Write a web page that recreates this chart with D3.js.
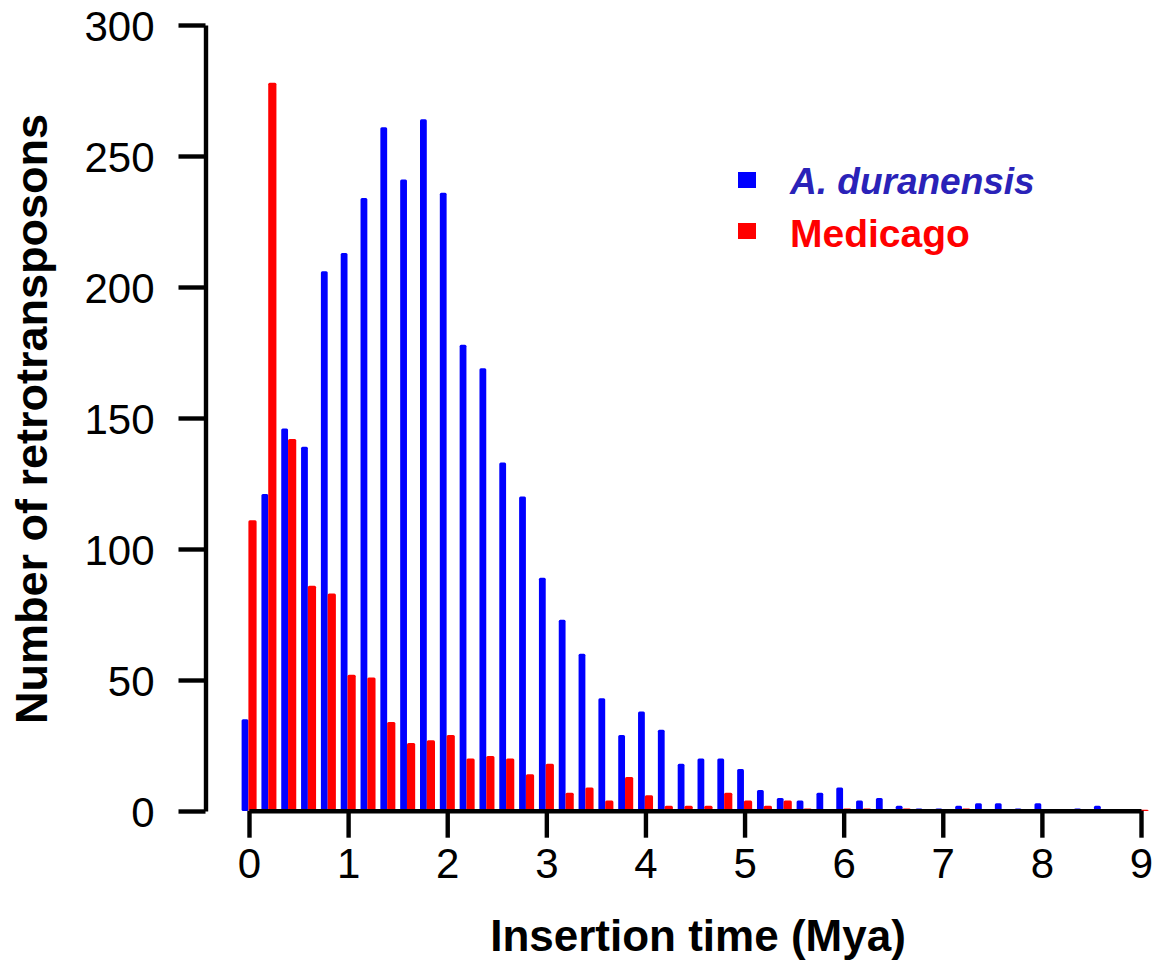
<!DOCTYPE html>
<html>
<head>
<meta charset="utf-8">
<script src="https://cdn.jsdelivr.net/npm/d3@7"></script>
<style>
  body { margin: 0; background: #fff; }
  text { font-family: "Liberation Sans", Arial, sans-serif; }
</style>
</head>
<body>
<svg id="chart"></svg>
<script>
// bin start (Mya), 0.2 wide
const bins = [0, 0.2, 0.4, 0.6, 0.8, 1.0, 1.2, 1.4, 1.6, 1.8, 2.0, 2.2, 2.4, 2.6, 2.8,
    3.0, 3.2, 3.4, 3.6, 3.8, 4.0, 4.2, 4.4, 4.6, 4.8, 5.0, 5.2, 5.4, 5.6, 5.8,
    6.0, 6.2, 6.4, 6.6, 6.8, 7.0, 7.2, 7.4, 7.6, 7.8, 8.0, 8.2, 8.4, 8.6, 8.8, 9.0];
const duranensis = [35, 121, 146, 139, 206, 213, 234, 261, 241, 264, 236, 178, 169, 133, 120,
    89, 73, 60, 43, 29, 38, 31, 18, 20, 20, 16, 8, 5, 4, 7,
    9, 4, 5, 2, 1, 1, 2, 3, 3, 1, 3, 0, 1, 2, 0, 0];
const medicago = [111, 278, 142, 86, 83, 52, 51, 34, 26, 27, 29, 20, 21, 20, 14,
    18, 7, 9, 4, 13, 6, 2, 2, 2, 7, 4, 2, 4, 1, 0,
    1, 1, 0, 1, 0, 0, 1, 0, 0, 0, 0, 0, 0, 0, 0, 0.5];
const xTicks = [0, 1, 2, 3, 4, 5, 6, 7, 8, 9];
const yTicks = [0, 50, 100, 150, 200, 250, 300];
const seriesNames = ["A. duranensis", "Medicago"];

function drawChart(){
    const width = 1162;
    const height = 961;

    const svg = d3.select("#chart")
        .attr("width", width)
        .attr("height", height);

    const x = d3.scaleLinear().domain([0, 9]).range([249, 1141]);
    const y = d3.scaleLinear().domain([0, 300]).range([811, 25]);

    const data = bins.map((b, i) => ({bin: b, blue: duranensis[i], red: medicago[i]}));

    // blue bars sit just left of the bin mark, red ones just right
    svg.append("g").selectAll("rect")
        .data(data.filter(d => d.blue > 0))
        .enter()
        .append("rect")
        .attr("x", d => x(d.bin) - 7.4)
        .attr("y", d => y(d.blue))
        .attr("width", 6.8)
        .attr("height", d => y(0) - y(d.blue))
        .attr("rx", 1.5)
        .attr("fill", "#0000ff");

    svg.append("g").selectAll("rect")
        .data(data.filter(d => d.red > 0))
        .enter()
        .append("rect")
        .attr("x", d => x(d.bin) - 0.6)
        .attr("y", d => y(d.red))
        .attr("width", 8.2)
        .attr("height", d => y(0) - y(d.red))
        .attr("rx", 1.5)
        .attr("fill", "#ff0000");

    const yAxis = svg.append("g")
        .attr("transform", "translate(205.5,0)")
        .call(d3.axisLeft(y).tickValues(yTicks).tickSize(27).tickSizeOuter(0).tickPadding(24));

    const xAxis = svg.append("g")
        .attr("transform", "translate(0,810.7)")
        .call(d3.axisBottom(x).tickValues(xTicks).tickSize(27).tickSizeOuter(0).tickPadding(10));

    [yAxis, xAxis].forEach(g => {
        g.select(".domain").attr("stroke", "#000").attr("stroke-width", 4.4);
        g.selectAll(".tick line").attr("stroke", "#000").attr("stroke-width", 4.4);
        g.selectAll(".tick text")
            .attr("fill", "#000")
            .style("font-family", "'Liberation Sans', Arial, sans-serif")
            .style("font-size", "42px");
    });
    yAxis.selectAll(".tick text").attr("dy", "0.36em");

    svg.append("text")
        .text("Insertion time (Mya)")
        .attr("x", 698)
        .attr("y", 951)
        .style("text-anchor", "middle")
        .style("font-weight", "bold")
        .style("font-size", "44px");

    svg.append("text")
        .text("Number of retrotransposons")
        .attr("transform", "translate(47,419) rotate(-90)")
        .style("text-anchor", "middle")
        .style("font-weight", "bold")
        .style("font-size", "45px");

    // legend
    const legend = svg.append("g");
    const legendColors = ["#0000ff", "#ff0000"];
    const textColors = ["#2a22b8", "#ff0000"];
    const textSizes = ["37px", "39px"];
    legend.selectAll("rect")
        .data(seriesNames)
        .enter()
        .append("rect")
        .attr("x", 738)
        .attr("y", (d, i) => 172 + i * 51)
        .attr("width", 18)
        .attr("height", 16)
        .attr("fill", (d, i) => legendColors[i]);

    legend.selectAll("text")
        .data(seriesNames)
        .enter()
        .append("text")
        .text(d => d)
        .attr("x", 790)
        .attr("y", (d, i) => 194 + i * 53)
        .attr("fill", (d, i) => textColors[i])
        .style("font-weight", "bold")
        .style("font-style", (d, i) => i === 0 ? "italic" : "normal")
        .style("font-size", (d, i) => textSizes[i]);
}

drawChart();
</script>
</body>
</html>
